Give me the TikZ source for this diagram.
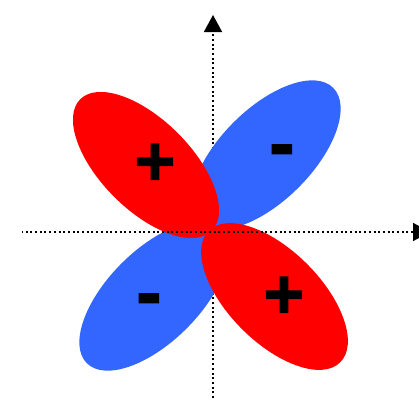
\documentclass[tikz,border=0pt]{standalone}
\usepackage{fontspec}
\setmainfont{Liberation Sans}
\newfontfamily\signfont[FakeBold=1.6]{Liberation Sans Bold}
\usepackage{tikz}
\usetikzlibrary{arrows.meta,shapes.geometric}
\definecolor{lobered}{RGB}{255,0,0}
\definecolor{lobeblue}{RGB}{51,102,255}

\begin{document}
\begin{tikzpicture}[x=1pt, y=1pt,
  lobe/.style={ellipse, inner sep=0pt, minimum width=190pt, minimum height=92pt},
  ax/.style={line width=1.8pt, dash pattern=on 2pt off 2.7pt,
    -{Triangle[length=17pt, width=18pt]}},
  plus/.style={font=\fontsize{70}{72}\signfont, inner sep=0pt, anchor=base},
  minus/.style={font=\fontsize{76}{80}\signfont, inner sep=0pt, anchor=base}
]
\useasboundingbox (-213,-176) rectangle (206,232);
\coordinate (vlo) at (0,-166);
\coordinate (vhi) at (0,217);
\coordinate (hlo) at (-191,0);
\coordinate (hhi) at (217,0);
% vertical axis lies under the lobes
\draw[ax] (vlo) -- (vhi);
\node[lobe, fill=lobeblue, rotate=45] (bur) at (53,77) {};
\node[lobe, fill=lobeblue, rotate=45] (bll) at (-59,-64) {};
\node[lobe, fill=lobered, rotate=-45, minimum width=186pt, minimum height=90pt] (rul) at (-67,67) {};
\node[lobe, fill=lobered, rotate=-45, minimum width=186pt] (rlr) at (61.5,-64.5) {};
% horizontal axis on top
\draw[ax, dash phase=1pt] (hlo) -- (hhi);
\node[plus] (pul) at (-58,47) {+};
\node[plus] (plr) at (71,-86) {+};
\node[minus] (mur) at (69,63) {-};
\node[minus] (mll) at (-64,-86) {-};
\end{tikzpicture}
\end{document}
